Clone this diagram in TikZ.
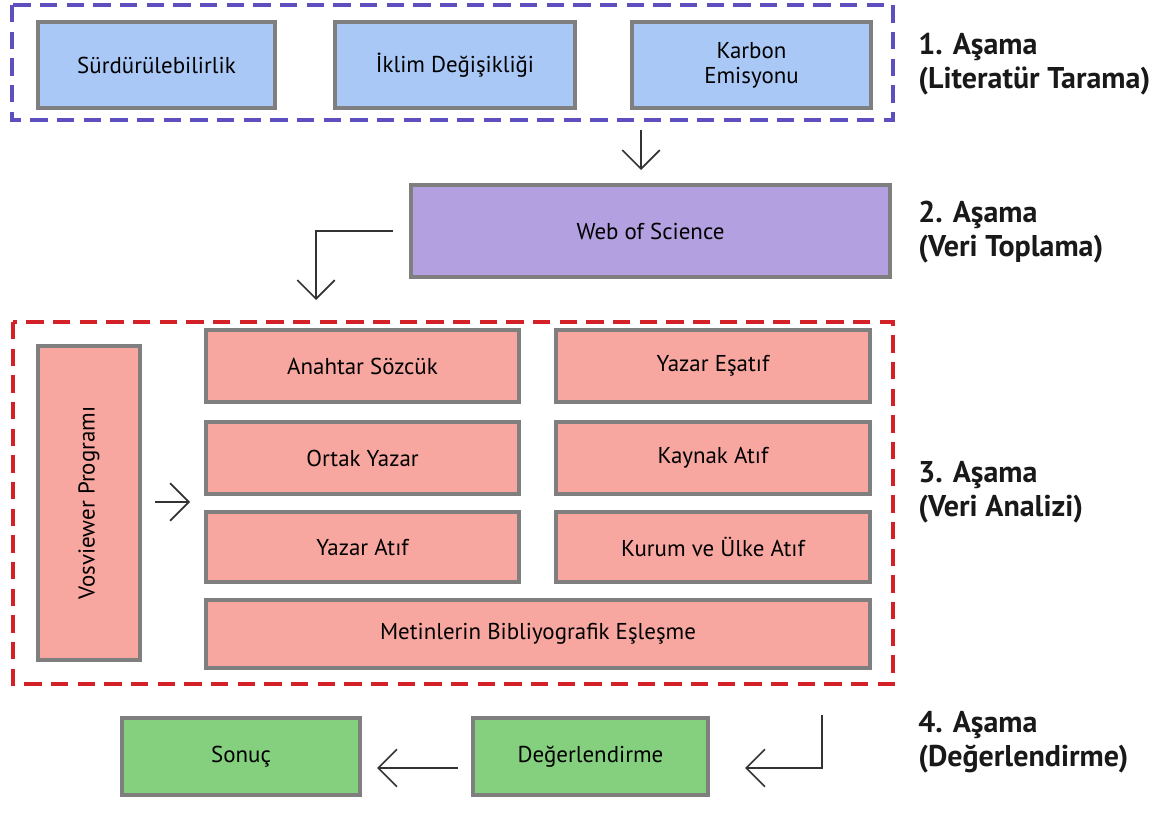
\documentclass[tikz,border=0pt]{standalone}
\usepackage{fontspec}
\setmainfont{PT Sans}
\usetikzlibrary{arrows.meta}
\definecolor{bluefill}{HTML}{A9C8F5}
\definecolor{purplefill}{HTML}{B3A0E0}
\definecolor{pinkfill}{HTML}{F8A6A0}
\definecolor{greenfill}{HTML}{84D07E}
\definecolor{boxborder}{HTML}{7F7F7F}
\definecolor{dashblue}{HTML}{5E4FC0}
\definecolor{dashred}{HTML}{D42027}
\definecolor{arrowcol}{HTML}{333333}
\tikzset{
  boxfont/.style={font=\fontsize{17.2}{19}\selectfont, text=black},
  box/.style={draw=boxborder, line width=3pt, inner sep=0pt, boxfont},
  frame/.style={line width=2.6pt, dash pattern=on 13pt off 7pt},
  conn/.style={draw=arrowcol, line width=1.3pt, -{Straight Barb[length=14pt,width=28pt,line width=1.3pt]}},
  stage/.style={anchor=west, align=left, font=\bfseries\fontsize{22.5}{25.5}\selectfont, text=black!90, inner sep=0pt}
}
\begin{document}
\begin{tikzpicture}[x=0.75pt,y=-0.75pt]
\useasboundingbox (0,0) rectangle (1167,816);
% frames
\draw[frame, draw=dashblue] (12,5) rectangle (893,120);
\draw[frame, draw=dashred] (13,322) rectangle (893,684);
% stage 1
\node[box, fill=bluefill, minimum width=237*0.75pt, minimum height=86*0.75pt] (s1) at (156.5,65) {Sürdürülebilirlik};
\node[box, fill=bluefill, minimum width=240*0.75pt, minimum height=86*0.75pt] (s2) at (455,65) {İklim Değişikliği};
\node[box, fill=bluefill, minimum width=239*0.75pt, minimum height=86*0.75pt, align=center] (s3) at (751.5,65) {Karbon\\Emisyonu};
% stage 2
\node[box, fill=purplefill, minimum width=479*0.75pt, minimum height=92*0.75pt] (wos) at (650.5,231) {Web of Science};
% stage 3
\node[box, fill=pinkfill, minimum width=102*0.75pt, minimum height=314*0.75pt] (vos) at (89,503) {};
\node[rotate=90, boxfont] (vostext) at (vos.center) {Vosviewer Programı};
\node[box, fill=pinkfill, minimum width=313*0.75pt, minimum height=72*0.75pt] (a1) at (362.5,366) {Anahtar Sözcük};
\node[box, fill=pinkfill, minimum width=314*0.75pt, minimum height=72*0.75pt] (b1) at (713,366) {Yazar Eşatıf};
\node[box, fill=pinkfill, minimum width=313*0.75pt, minimum height=72*0.75pt] (a2) at (362.5,458) {Ortak Yazar};
\node[box, fill=pinkfill, minimum width=314*0.75pt, minimum height=72*0.75pt] (b2) at (713,458) {Kaynak Atıf};
\node[box, fill=pinkfill, minimum width=313*0.75pt, minimum height=70*0.75pt] (a3) at (362.5,547) {Yazar Atıf};
\node[box, fill=pinkfill, minimum width=314*0.75pt, minimum height=70*0.75pt] (b3) at (713,547) {Kurum ve Ülke Atıf};
\node[box, fill=pinkfill, minimum width=664*0.75pt, minimum height=68*0.75pt] (m) at (538,634) {Metinlerin Bibliyografik Eşleşme};
% stage 4
\node[box, fill=greenfill, minimum width=238*0.75pt, minimum height=77*0.75pt] (son) at (241,756.5) {Sonuç};
\node[box, fill=greenfill, minimum width=235*0.75pt, minimum height=77*0.75pt] (deg) at (590.5,756.5) {Değerlendirme};
% stage labels
\node[stage] (l1) at (918,64) {1. Aşama\\(Literatür Tarama)};
\node[stage] (l2) at (918,232) {2. Aşama\\(Veri Toplama)};
\node[stage] (l3) at (918,492) {3. Aşama\\(Veri Analizi)};
\node[stage] (l4) at (918,742) {4. Aşama\\(Değerlendirme)};
% connector coordinates
\coordinate (c1s) at (641,130);
\coordinate (c1e) at (641,170);
\coordinate (c2s) at (393,231);
\coordinate (c2m) at (316,231);
\coordinate (c2e) at (316,300);
\coordinate (c3s) at (155,502);
\coordinate (c3e) at (190,502);
\coordinate (c4s) at (822,715);
\coordinate (c4m) at (822,768);
\coordinate (c4e) at (745,768);
\coordinate (c5s) at (458,768);
\coordinate (c5e) at (377,768);
\draw[conn] (c1s) -- (c1e);
\draw[conn] (c2s) -- (c2m) -- (c2e);
\draw[conn] (c3s) -- (c3e);
\draw[conn] (c4s) -- (c4m) -- (c4e);
\draw[conn] (c5s) -- (c5e);
\end{tikzpicture}
\end{document}
